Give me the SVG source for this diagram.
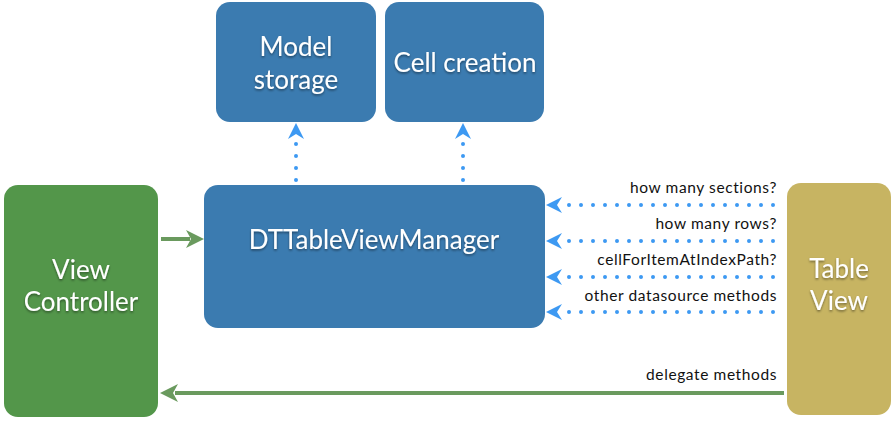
<svg xmlns="http://www.w3.org/2000/svg" width="895" height="421" viewBox="0 0 895 421">
<defs>
<filter id="ts" x="-10%" y="-10%" width="120%" height="130%">
<feDropShadow dx="0" dy="1.5" stdDeviation="1" flood-color="#000" flood-opacity="0.45"/>
</filter>
<marker id="bh" viewBox="0 0 16 16" refX="15" refY="8" markerWidth="16" markerHeight="16" markerUnits="userSpaceOnUse" orient="auto">
<path d="M16,8 L0,0 L5,8 L0,16 Z" fill="#3d99f2"/>
</marker>
<marker id="gh" viewBox="0 0 18 18" refX="17" refY="9" markerWidth="18" markerHeight="18" markerUnits="userSpaceOnUse" orient="auto">
<path d="M18,9 L0,0 L5,9 L0,18 Z" fill="#6a9a5e"/>
</marker>
</defs>
<style>
.blue{fill:#3b7bb0}
.green{fill:#53964a}
.gold{fill:#c7b462}
.big{font-family:Lato,"Open Sans",sans-serif;font-size:26px;fill:#fff;text-anchor:middle;filter:url(#ts)}
.lbl{font-family:Lato,"Open Sans",sans-serif;font-size:15.5px;letter-spacing:0.6px;fill:#111;text-anchor:end}
.dot{stroke:#3d99f2;stroke-width:4;stroke-linecap:round;stroke-dasharray:0 12;fill:none}
.head{stroke:none;fill:none}
.garrow{stroke:#6a9a5e;stroke-width:4;fill:none}
</style>
<g id="model-storage">
<rect class="blue" x="216" y="2" width="160" height="120" rx="14"/>
<text class="big" x="296" y="56">Model</text>
<text class="big" x="296" y="89">storage</text>
</g>
<g id="cell-creation">
<rect class="blue" x="385" y="2" width="159" height="120" rx="14"/>
<text class="big" x="465" y="72">Cell creation</text>
</g>
<g id="manager">
<rect class="blue" x="204" y="185" width="341" height="143" rx="14"/>
<text class="big" x="374" y="249">DTTableViewManager</text>
</g>
<g id="view-controller">
<rect class="green" x="4" y="185" width="154" height="232" rx="14"/>
<text class="big" x="81" y="279">View</text>
<text class="big" x="81" y="311">Controller</text>
</g>
<g id="table-view">
<rect class="gold" x="787" y="183" width="104" height="232" rx="14"/>
<text class="big" x="839" y="278">Table</text>
<text class="big" x="839" y="310">View</text>
</g>
<g id="connectors">
<path class="dot" d="M296,180 L296,140"/>
<path class="head" d="M296,140 L296,124" marker-end="url(#bh)"/>
<path class="dot" d="M463,180 L463,140"/>
<path class="head" d="M463,140 L463,124" marker-end="url(#bh)"/>
<path class="dot" d="M773,205 L563,205"/>
<path class="head" d="M563,205 L547,205" marker-end="url(#bh)"/>
<path class="dot" d="M773,241 L563,241"/>
<path class="head" d="M563,241 L547,241" marker-end="url(#bh)"/>
<path class="dot" d="M773,277 L563,277"/>
<path class="head" d="M563,277 L547,277" marker-end="url(#bh)"/>
<path class="dot" d="M773,312 L563,312"/>
<path class="head" d="M563,312 L547,312" marker-end="url(#bh)"/>
<path class="garrow" d="M161,239 L190,239"/>
<path class="head" d="M188,239 L203,239" marker-end="url(#gh)"/>
<path class="garrow" d="M784,393 L175,393"/>
<path class="head" d="M177,393 L161,393" marker-end="url(#gh)"/>
<text class="lbl" x="777" y="193">how many sections?</text>
<text class="lbl" x="777" y="229">how many rows?</text>
<text class="lbl" x="777" y="265">cellForItemAtIndexPath?</text>
<text class="lbl" x="777" y="301">other datasource methods</text>
<text class="lbl" x="777" y="380">delegate methods</text>
</g>
</svg>
